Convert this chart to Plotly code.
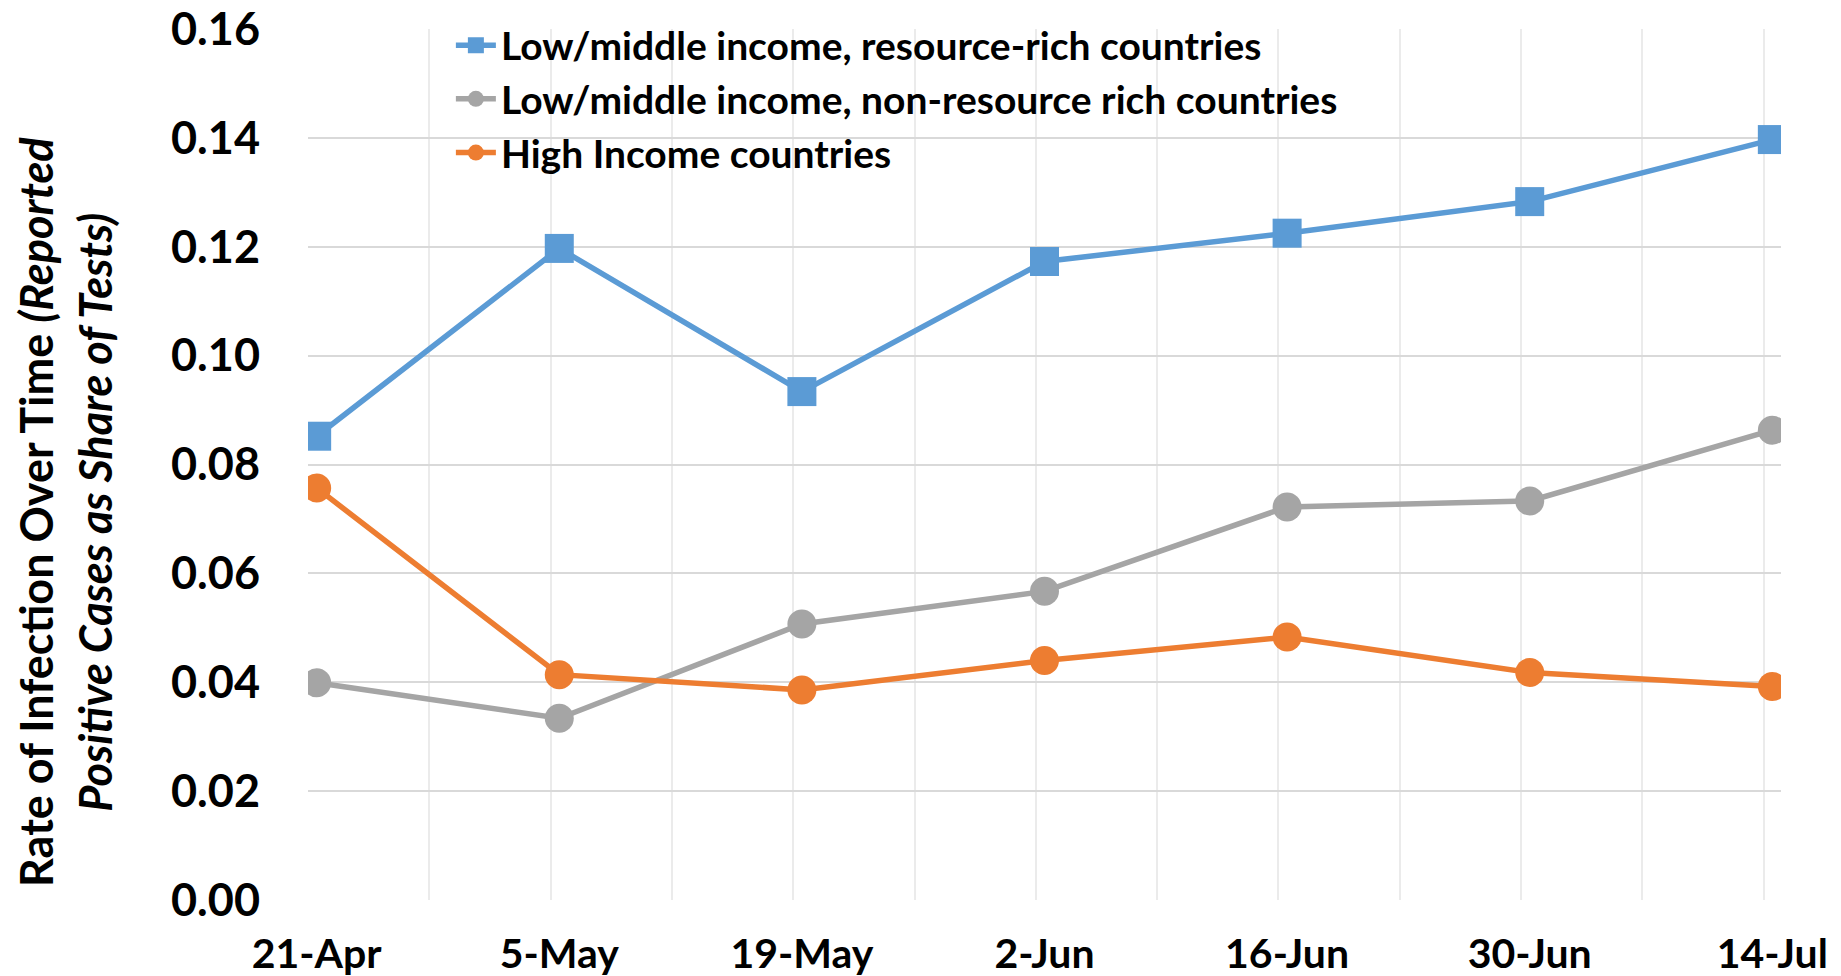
import pandas as pd
import plotly.graph_objects as go

dates = ["2020-04-21", "2020-05-05", "2020-05-19", "2020-06-02", "2020-06-16", "2020-06-30", "2020-07-14"]
date_labels = ["21-Apr", "5-May", "19-May", "2-Jun", "16-Jun", "30-Jun", "14-Jul"]

series_names = [
    "Low/middle income, resource-rich countries",
    "Low/middle income, non-resource rich countries",
    "High Income countries",
]
resource_rich = [0.0852, 0.1197, 0.0934, 0.1173, 0.1225, 0.1283, 0.1397]
non_resource_rich = [0.0399, 0.0334, 0.0507, 0.0567, 0.0722, 0.0733, 0.0863]
high_income = [0.0757, 0.0414, 0.0386, 0.0440, 0.0483, 0.0418, 0.0392]

y_ticks = [0.00, 0.02, 0.04, 0.06, 0.08, 0.10, 0.12, 0.14, 0.16]
y_tick_labels = ["0.00", "0.02", "0.04", "0.06", "0.08", "0.10", "0.12", "0.14", "0.16"]

y_title = "Rate of Infection Over Time <i>(Reported</i><br><i>Positive Cases as Share of Tests)</i>"

colors = ["#5B9BD5", "#A5A5A5", "#ED7D31"]
symbols = ["square", "circle", "circle"]

d = pd.to_datetime(dates)
days = [(x - d[0]).days for x in d]

FONT = "Lato"

fig = go.Figure()
for name, vals, c, s in zip(series_names, [resource_rich, non_resource_rich, high_income], colors, symbols):
    fig.add_trace(go.Scatter(
        x=days, y=vals, name=name, mode="lines+markers",
        line=dict(color=c, width=5.5),
        marker=dict(symbol=s, size=29, color=c),
    ))

grid_days = [-0.5 + 7 * k for k in range(13)]

fig.update_layout(
    width=1841, height=976,
    margin=dict(l=308, r=60, t=29, b=76, autoexpand=False),
    paper_bgcolor="white", plot_bgcolor="white",
    font=dict(family=FONT, color="black"),
    showlegend=True,
    legend=dict(
        x=0.097, y=1.018, xanchor="left", yanchor="top",
        bgcolor="rgba(0,0,0,0)",
        font=dict(family=FONT, size=39, color="black", weight="bold"),
        tracegroupgap=0, itemwidth=40,
    ),
    xaxis=dict(
        range=[-0.5, 84.5],
        tickmode="array", tickvals=days, ticktext=date_labels,
        showgrid=False, zeroline=False,
        showline=False, automargin=False,
        ticks="outside", ticklen=18, tickcolor="rgba(0,0,0,0)",
        tickfont=dict(family=FONT, size=41, color="black", weight="bold"),
        minor=dict(tickmode="array", tickvals=grid_days, showgrid=True,
                   gridcolor="#EBEBEB", gridwidth=2, ticks=""),
    ),
    yaxis=dict(
        range=[0, 0.16001],
        tickmode="array", tickvals=y_ticks, ticktext=y_tick_labels,
        showgrid=True, gridcolor="#D9D9D9", gridwidth=2,
        zeroline=False, showline=False,
        ticks="outside", ticklen=38, tickcolor="rgba(0,0,0,0)",
        tickfont=dict(family=FONT, size=45, color="black", weight="bold"),
        automargin=False,
    ),
    annotations=[dict(
        text=y_title, xref="paper", yref="paper",
        x=-0.1643, y=0.4455, xanchor="center", yanchor="middle",
        textangle=-90, showarrow=False, align="center",
        font=dict(family=FONT, size=45, color="black", weight="bold"),
    )],
)

fig.write_html("out.html", config={"displayModeBar": False},
               post_script="document.body.style.margin='0';")
